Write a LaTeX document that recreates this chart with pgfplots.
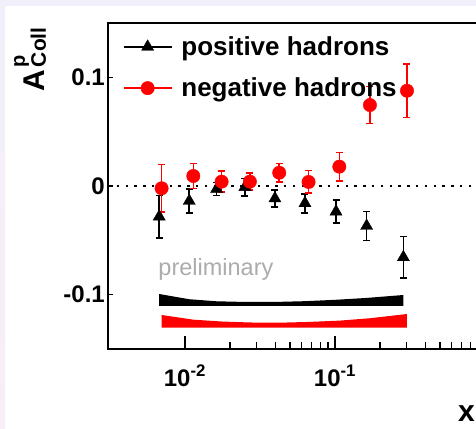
\documentclass[border=0pt]{standalone}
\usepackage{pgfplots}
\pgfplotsset{compat=1.18}
\usepackage{fontspec}
\setmainfont{Liberation Sans}
\definecolor{lav}{RGB}{241,239,250}
\definecolor{lavpink}{RGB}{248,238,245}
\definecolor{prelim}{RGB}{172,172,172}
\begin{document}
\begin{tikzpicture}
\fill[white] (0,0) rectangle (476pt,428pt);
\shade[top color=lav, bottom color=lavpink] (0,0) rectangle (5pt,428pt);
\fill[lav] (0,422pt) rectangle (476pt,428pt);
\begin{axis}[
  at={(108pt,79pt)}, anchor=south west,
  scale only axis, width=377pt, height=326pt,
  xmode=log, xmin=0.00307, xmax=1, ymin=-0.15, ymax=0.15,
  xtick={0.01,0.1,1}, xticklabels={10\textsuperscript{-2},10\textsuperscript{-1},{}},
  ytick={-0.1,0,0.1}, yticklabels={-0.1,0,0.1},
  tick align=inside, xtick pos=bottom, ytick pos=left,
  major tick length=12.7pt, minor tick length=6.5pt,
  ytick style={/pgfplots/major tick length=5pt},
  every tick/.style={black, line width=1.4pt},
  axis line style={line width=1.8pt},
  tick label style={font=\fontsize{24}{24}\selectfont\bfseries},
  xticklabel style={anchor=base, inner sep=0pt, yshift=-37pt},
  yticklabel style={anchor=east, inner sep=0pt, xshift=-3pt},
  xlabel={x},
  xlabel style={at={(axis description cs:0.9284,-0.2239)}, anchor=base west, inner sep=0pt, font=\fontsize{30}{30}\selectfont\bfseries},
  ylabel={\fontsize{30}{30}\selectfont\bfseries A\kern3pt\rlap{\raisebox{20pt}{\fontsize{20}{20}\selectfont p}}\raisebox{-1pt}{\fontsize{21}{21}\selectfont Coll}},
  ylabel style={at={(axis description cs:-0.1671,0.7883)}, anchor=base west, inner sep=0pt},
  legend style={at={(axis description cs:0.039,0.965)}, anchor=north west, draw=none, fill=none,
    font=\fontsize{26}{26}\selectfont\bfseries, inner sep=0pt, row sep=17pt,
    /tikz/every odd column/.append style={column sep=7pt}},
  legend cell align=left,
  legend image code/.code={\draw[sharp plot,mark repeat=2,mark phase=2] plot coordinates {(0pt,0pt)(24pt,0pt)(48pt,0pt)};},
]
% systematic bands
\addplot[fill=black, draw=none, forget plot] coordinates {
(0.00674,-0.0994)(0.01068,-0.1042)(0.01626,-0.1061)(0.0251,-0.1067)(0.0398,-0.1067)(0.0631,-0.1060)(0.1016,-0.1047)(0.1626,-0.1030)(0.2857,-0.1003)
(0.2857,-0.1104)(0.00674,-0.1104)} -- cycle;
\addplot[fill=red, draw=none, forget plot] coordinates {
(0.00699,-0.1187)(0.01137,-0.1230)(0.01756,-0.1247)(0.0271,-0.1256)(0.0425,-0.1258)(0.0667,-0.1251)(0.1069,-0.1239)(0.171,-0.1217)(0.302,-0.1178)
(0.302,-0.1304)(0.00699,-0.1304)} -- cycle;
% zero line
\addplot[black, line width=2.4pt, dash pattern=on 2.4pt off 6.4pt, forget plot] coordinates {(0.00307,0)(1,0)};
% positive hadrons
\addplot[black, only marks, mark=triangle*, mark size=7pt, mark options={line width=0.4pt}, forget plot,
  error bars/.cd, y dir=both, y explicit, error bar style={line width=1.6pt},
  error mark options={rotate=90, black, line width=1.6pt, mark size=3.5pt}]
coordinates {
(0.00674,-0.0282) +- (0,0.0196)
(0.01068,-0.0138) +- (0,0.011)
(0.01626,-0.0028) +- (0,0.006)
(0.0251,-0.001) +- (0,0.008)
(0.0398,-0.0115) +- (0,0.008)
(0.0631,-0.0159) +- (0,0.0087)
(0.1016,-0.0236) +- (0,0.0107)
(0.1626,-0.0368) +- (0,0.0135)
(0.2857,-0.0656) +- (0,0.0193)
};
% negative hadrons
\addplot[red, only marks, mark=*, mark size=6.7pt, mark options={line width=0.4pt}, forget plot,
  error bars/.cd, y dir=both, y explicit, error bar style={line width=1.6pt},
  error mark options={rotate=90, red, line width=1.6pt, mark size=3.5pt}]
coordinates {
(0.00699,-0.0021) +- (0,0.022)
(0.01137,0.0092) +- (0,0.0115)
(0.01756,0.004) +- (0,0.0097)
(0.0271,0.004) +- (0,0.0077)
(0.0425,0.0122) +- (0,0.0085)
(0.0667,0.0037) +- (0,0.0104)
(0.1069,0.0178) +- (0,0.013)
(0.171,0.0745) +- (0,0.0169)
(0.302,0.0877) +- (0,0.0247)
};
\addlegendimage{black, line width=1.5pt, mark=triangle*, mark size=7pt, mark options={line width=0.4pt}}
\addlegendentry{positive hadrons}
\addlegendimage{red, line width=1.5pt, mark=*, mark size=6.7pt, mark options={line width=0.4pt}}
\addlegendentry{negative hadrons}
\node[anchor=base west, inner sep=0pt, text=prelim, font=\fontsize{23.5}{23.5}\selectfont] at (axis cs:0.00664,-0.0828) {preliminary};
\end{axis}
\pgfresetboundingbox
\path[use as bounding box] (0,0) rectangle (476pt,428pt);
\end{tikzpicture}
\end{document}
